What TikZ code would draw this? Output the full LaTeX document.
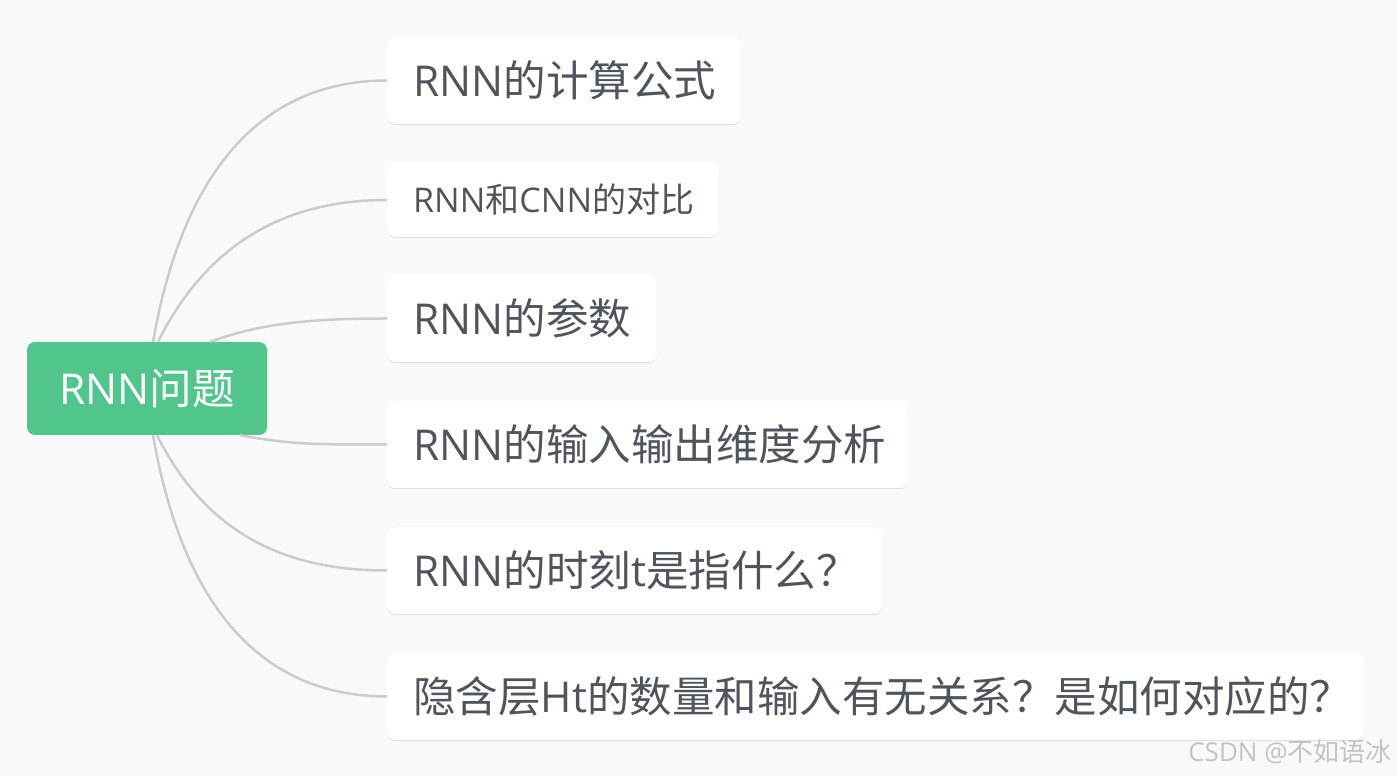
\documentclass[tikz,border=0pt]{standalone}
\usepackage{fontspec}
\setmainfont{Open Sans}
\newfontfamily\cjk{Noto Sans CJK SC}
\usetikzlibrary{shadows}
\definecolor{bggray}{HTML}{F9F9F9}
\definecolor{rootgreen}{HTML}{52C58D}
\definecolor{textgray}{HTML}{4F555D}
\definecolor{linegray}{HTML}{CCCCCC}
\definecolor{markgray}{HTML}{C4C4C4}
\newcommand{\zh}[1]{{\cjk #1}}

\begin{document}
\begin{tikzpicture}[x=1pt, y=1pt,
    root/.style ={rectangle, rounded corners=8pt, fill=rootgreen, text=white,
        minimum width=240pt, minimum height=93pt, inner sep=0pt,
        font=\fontsize{42.5pt}{50pt}\selectfont},
    topic/.style ={rectangle, rounded corners=8pt, fill=white, text=textgray,
        anchor=west, inner xsep=26pt, inner ysep=0pt, align=left,
        minimum height=87pt, font=\fontsize{42.5pt}{50pt}\selectfont,
        drop shadow={shadow xshift=0pt, shadow yshift=-1pt, opacity=0.10, fill=black}},
    branch/.style ={draw=linegray, line width=2.5pt}]
   \fill[bggray] (0,0) rectangle (1397,776);
   \useasboundingbox (0,0) rectangle (1397,776);

   \node[root] (R) at (147,387.5) {RNN\zh{问题}};
   \node[topic, text width=302pt] (A) at (387,695.5) {RNN\zh{的计算公式}};
   \node[topic, text width=279pt, minimum height=74pt,
         font=\fontsize{34pt}{40pt}\selectfont] (B) at (387,576) {RNN\zh{和}CNN\zh{的对比}};
   \node[topic, text width=218pt] (C) at (387,457.5) {RNN\zh{的参数}};
   \node[topic, text width=469pt] (D) at (387,331.5) {RNN\zh{的输入输出维度分析}};
   \node[topic, text width=443pt] (E) at (387,205.5) {RNN\zh{的时刻}t\zh{是指什么？}};
   \node[topic, text width=925pt] (F) at (387,79.5) {\zh{隐含层}Ht\zh{的数量和输入有无关系？是如何对应的？}};
   \node[text=markgray, font=\fontsize{26pt}{30pt}\selectfont] (mark) at (1290,24) {CSDN @\zh{不如语冰}};

   \draw[branch] ([xshift=6pt]R.north) .. controls +(32,182) and +(-117,0) .. (A.west);
   \draw[branch] ([xshift=11pt]R.north) .. controls +(50,100) and +(-100,0) .. (B.west);
   \draw[branch] ([xshift=63pt]R.north) .. controls +(50,18) and +(-80,0) .. (C.west);
   \draw[branch] ([xshift=93pt]R.south) .. controls +(50,-9) and +(-80,0) .. (D.west);
   \draw[branch] ([xshift=10pt]R.south) .. controls +(50,-100) and +(-100,0) .. (E.west);
   \draw[branch] ([xshift=6pt]R.south) .. controls +(32,-183) and +(-117,0) .. (F.west);
\end{tikzpicture}
\end{document}
